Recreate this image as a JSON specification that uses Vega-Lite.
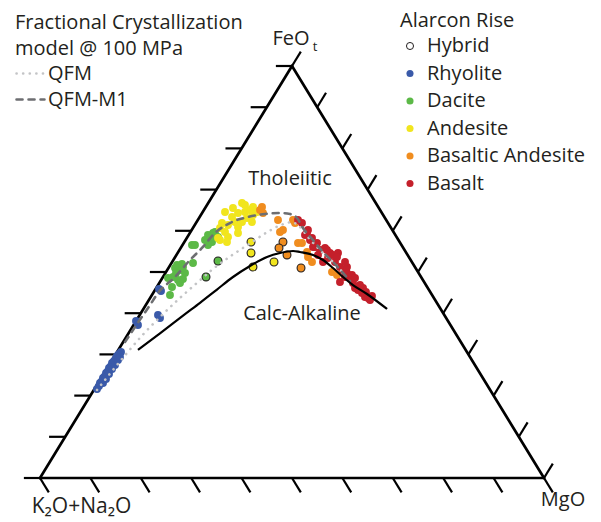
{
  "$schema": "https://vega.github.io/schema/vega-lite/v6.json",
  "description": "AFM ternary diagram (K2O+Na2O - FeOt - MgO) of Alarcon Rise lavas with fractional crystallization model paths and the tholeiitic / calc-alkaline boundary. x and y are the ternary coordinates projected onto the triangle (MgO + FeOt/2, FeOt).",
  "width": 504,
  "height": 412,
  "autosize": {"type": "none"},
  "padding": {"left": 40, "top": 66, "right": 57, "bottom": 44},
  "background": "white",
  "config": {"view": {"stroke": null}, "font": "Open Sans", "text": {"font": "Open Sans"}},
  "datasets": {
    "edges": [
      {"x": 0, "y": 0, "x2": 100, "y2": 0},
      {"x": 0, "y": 0, "x2": 50, "y2": 100},
      {"x": 100, "y": 0, "x2": 50, "y2": 100}
    ],
    "ticks": [
      {"x": 0, "y": 0, "x2": -3.2, "y2": 0},
      {"x": 5, "y": 10, "x2": 1.8, "y2": 10},
      {"x": 10, "y": 20, "x2": 6.8, "y2": 20},
      {"x": 15, "y": 30, "x2": 11.8, "y2": 30},
      {"x": 20, "y": 40, "x2": 16.8, "y2": 40},
      {"x": 25, "y": 50, "x2": 21.8, "y2": 50},
      {"x": 30, "y": 60, "x2": 26.8, "y2": 60},
      {"x": 35, "y": 70, "x2": 31.8, "y2": 70},
      {"x": 40, "y": 80, "x2": 36.8, "y2": 80},
      {"x": 45, "y": 90, "x2": 41.8, "y2": 90},
      {"x": 50, "y": 100, "x2": 46.8, "y2": 100},
      {"x": 0, "y": 0, "x2": 1.75, "y2": -3.5},
      {"x": 10, "y": 0, "x2": 11.75, "y2": -3.5},
      {"x": 20, "y": 0, "x2": 21.75, "y2": -3.5},
      {"x": 30, "y": 0, "x2": 31.75, "y2": -3.5},
      {"x": 40, "y": 0, "x2": 41.75, "y2": -3.5},
      {"x": 50, "y": 0, "x2": 51.75, "y2": -3.5},
      {"x": 60, "y": 0, "x2": 61.75, "y2": -3.5},
      {"x": 70, "y": 0, "x2": 71.75, "y2": -3.5},
      {"x": 80, "y": 0, "x2": 81.75, "y2": -3.5},
      {"x": 90, "y": 0, "x2": 91.75, "y2": -3.5},
      {"x": 100, "y": 0, "x2": 101.75, "y2": -3.5},
      {"x": 100, "y": 0, "x2": 101.75, "y2": 3.5},
      {"x": 95, "y": 10, "x2": 96.75, "y2": 13.5},
      {"x": 90, "y": 20, "x2": 91.75, "y2": 23.5},
      {"x": 85, "y": 30, "x2": 86.75, "y2": 33.5},
      {"x": 80, "y": 40, "x2": 81.75, "y2": 43.5},
      {"x": 75, "y": 50, "x2": 76.75, "y2": 53.5},
      {"x": 70, "y": 60, "x2": 71.75, "y2": 63.5},
      {"x": 65, "y": 70, "x2": 66.75, "y2": 73.5},
      {"x": 60, "y": 80, "x2": 61.75, "y2": 83.5},
      {"x": 55, "y": 90, "x2": 56.75, "y2": 93.5},
      {"x": 50, "y": 100, "x2": 51.75, "y2": 103.5}
    ],
    "samples": [
      {"x": 11.31, "y": 21.60, "type": "Rhyolite", "hybrid": false},
      {"x": 11.71, "y": 22.33, "type": "Rhyolite", "hybrid": false},
      {"x": 11.90, "y": 23.06, "type": "Rhyolite", "hybrid": false},
      {"x": 12.30, "y": 23.54, "type": "Rhyolite", "hybrid": false},
      {"x": 12.50, "y": 24.27, "type": "Rhyolite", "hybrid": false},
      {"x": 12.90, "y": 24.76, "type": "Rhyolite", "hybrid": false},
      {"x": 13.10, "y": 25.49, "type": "Rhyolite", "hybrid": false},
      {"x": 13.49, "y": 25.97, "type": "Rhyolite", "hybrid": false},
      {"x": 13.69, "y": 26.70, "type": "Rhyolite", "hybrid": false},
      {"x": 14.09, "y": 27.18, "type": "Rhyolite", "hybrid": false},
      {"x": 14.29, "y": 27.91, "type": "Rhyolite", "hybrid": false},
      {"x": 14.68, "y": 28.40, "type": "Rhyolite", "hybrid": false},
      {"x": 15.08, "y": 29.13, "type": "Rhyolite", "hybrid": false},
      {"x": 15.28, "y": 29.61, "type": "Rhyolite", "hybrid": false},
      {"x": 15.67, "y": 30.10, "type": "Rhyolite", "hybrid": false},
      {"x": 16.07, "y": 30.58, "type": "Rhyolite", "hybrid": false},
      {"x": 12.50, "y": 23.06, "type": "Rhyolite", "hybrid": false},
      {"x": 13.10, "y": 24.03, "type": "Rhyolite", "hybrid": false},
      {"x": 13.69, "y": 25.24, "type": "Rhyolite", "hybrid": false},
      {"x": 14.29, "y": 26.46, "type": "Rhyolite", "hybrid": false},
      {"x": 14.88, "y": 27.43, "type": "Rhyolite", "hybrid": false},
      {"x": 15.48, "y": 28.64, "type": "Rhyolite", "hybrid": false},
      {"x": 15.87, "y": 29.37, "type": "Rhyolite", "hybrid": false},
      {"x": 24.01, "y": 45.39, "type": "Rhyolite", "hybrid": false},
      {"x": 23.61, "y": 45.87, "type": "Rhyolite", "hybrid": false},
      {"x": 23.41, "y": 39.56, "type": "Rhyolite", "hybrid": false},
      {"x": 23.81, "y": 38.83, "type": "Rhyolite", "hybrid": false},
      {"x": 19.05, "y": 38.11, "type": "Rhyolite", "hybrid": false},
      {"x": 19.44, "y": 37.14, "type": "Rhyolite", "hybrid": false},
      {"x": 27.18, "y": 51.70, "type": "Dacite", "hybrid": false},
      {"x": 27.78, "y": 50.49, "type": "Dacite", "hybrid": false},
      {"x": 28.37, "y": 51.21, "type": "Dacite", "hybrid": false},
      {"x": 26.39, "y": 48.79, "type": "Dacite", "hybrid": false},
      {"x": 27.38, "y": 48.06, "type": "Dacite", "hybrid": false},
      {"x": 26.19, "y": 46.36, "type": "Dacite", "hybrid": false},
      {"x": 25.79, "y": 44.42, "type": "Dacite", "hybrid": false},
      {"x": 26.79, "y": 50.97, "type": "Dacite", "hybrid": false},
      {"x": 28.17, "y": 51.94, "type": "Dacite", "hybrid": false},
      {"x": 28.77, "y": 49.76, "type": "Dacite", "hybrid": false},
      {"x": 27.78, "y": 47.33, "type": "Dacite", "hybrid": false},
      {"x": 28.37, "y": 48.30, "type": "Dacite", "hybrid": false},
      {"x": 25.40, "y": 48.54, "type": "Dacite", "hybrid": false},
      {"x": 30.16, "y": 56.55, "type": "Dacite", "hybrid": false},
      {"x": 30.36, "y": 52.18, "type": "Dacite", "hybrid": false},
      {"x": 26.98, "y": 49.76, "type": "Dacite", "hybrid": false},
      {"x": 33.33, "y": 58.98, "type": "Dacite", "hybrid": false},
      {"x": 34.33, "y": 59.47, "type": "Dacite", "hybrid": false},
      {"x": 34.13, "y": 57.28, "type": "Dacite", "hybrid": false},
      {"x": 34.72, "y": 59.71, "type": "Dacite", "hybrid": false},
      {"x": 34.13, "y": 58.74, "type": "Dacite", "hybrid": false},
      {"x": 35.32, "y": 58.50, "type": "Dacite", "hybrid": false},
      {"x": 33.73, "y": 57.28, "type": "Dacite", "hybrid": false},
      {"x": 33.33, "y": 56.55, "type": "Dacite", "hybrid": false},
      {"x": 30.75, "y": 56.55, "type": "Dacite", "hybrid": false},
      {"x": 32.74, "y": 57.77, "type": "Dacite", "hybrid": false},
      {"x": 36.71, "y": 64.56, "type": "Andesite", "hybrid": false},
      {"x": 38.29, "y": 65.53, "type": "Andesite", "hybrid": false},
      {"x": 40.08, "y": 66.75, "type": "Andesite", "hybrid": false},
      {"x": 38.10, "y": 63.35, "type": "Andesite", "hybrid": false},
      {"x": 39.29, "y": 64.32, "type": "Andesite", "hybrid": false},
      {"x": 40.67, "y": 64.56, "type": "Andesite", "hybrid": false},
      {"x": 41.67, "y": 65.05, "type": "Andesite", "hybrid": false},
      {"x": 42.26, "y": 63.83, "type": "Andesite", "hybrid": false},
      {"x": 41.07, "y": 63.11, "type": "Andesite", "hybrid": false},
      {"x": 42.06, "y": 62.14, "type": "Andesite", "hybrid": false},
      {"x": 40.08, "y": 62.14, "type": "Andesite", "hybrid": false},
      {"x": 38.69, "y": 62.14, "type": "Andesite", "hybrid": false},
      {"x": 37.30, "y": 61.41, "type": "Andesite", "hybrid": false},
      {"x": 36.11, "y": 61.89, "type": "Andesite", "hybrid": false},
      {"x": 35.71, "y": 60.68, "type": "Andesite", "hybrid": false},
      {"x": 36.71, "y": 59.71, "type": "Andesite", "hybrid": false},
      {"x": 37.30, "y": 58.50, "type": "Andesite", "hybrid": false},
      {"x": 35.32, "y": 58.25, "type": "Andesite", "hybrid": false},
      {"x": 39.29, "y": 60.92, "type": "Andesite", "hybrid": false},
      {"x": 43.06, "y": 64.56, "type": "Andesite", "hybrid": false},
      {"x": 42.26, "y": 65.78, "type": "Andesite", "hybrid": false},
      {"x": 39.29, "y": 59.47, "type": "Andesite", "hybrid": false},
      {"x": 37.10, "y": 57.28, "type": "Andesite", "hybrid": false},
      {"x": 35.71, "y": 57.77, "type": "Andesite", "hybrid": false},
      {"x": 40.67, "y": 66.26, "type": "Andesite", "hybrid": false},
      {"x": 43.65, "y": 65.05, "type": "Basaltic Andesite", "hybrid": false},
      {"x": 44.25, "y": 64.32, "type": "Basaltic Andesite", "hybrid": false},
      {"x": 44.05, "y": 65.78, "type": "Basaltic Andesite", "hybrid": false},
      {"x": 47.22, "y": 62.62, "type": "Basaltic Andesite", "hybrid": false},
      {"x": 48.21, "y": 60.19, "type": "Basaltic Andesite", "hybrid": false},
      {"x": 47.62, "y": 59.71, "type": "Basaltic Andesite", "hybrid": false},
      {"x": 50.20, "y": 62.62, "type": "Basaltic Andesite", "hybrid": false},
      {"x": 50.60, "y": 61.89, "type": "Basaltic Andesite", "hybrid": false},
      {"x": 51.19, "y": 57.04, "type": "Basaltic Andesite", "hybrid": false},
      {"x": 51.98, "y": 57.04, "type": "Basaltic Andesite", "hybrid": false},
      {"x": 52.98, "y": 54.85, "type": "Basaltic Andesite", "hybrid": false},
      {"x": 53.17, "y": 53.64, "type": "Basaltic Andesite", "hybrid": false},
      {"x": 53.97, "y": 52.43, "type": "Basaltic Andesite", "hybrid": false},
      {"x": 57.94, "y": 50.00, "type": "Basaltic Andesite", "hybrid": false},
      {"x": 58.93, "y": 49.27, "type": "Basaltic Andesite", "hybrid": false},
      {"x": 51.19, "y": 62.62, "type": "Basalt", "hybrid": false},
      {"x": 51.98, "y": 61.89, "type": "Basalt", "hybrid": false},
      {"x": 52.58, "y": 58.98, "type": "Basalt", "hybrid": false},
      {"x": 52.98, "y": 59.47, "type": "Basalt", "hybrid": false},
      {"x": 53.57, "y": 57.77, "type": "Basalt", "hybrid": false},
      {"x": 53.97, "y": 58.25, "type": "Basalt", "hybrid": false},
      {"x": 54.56, "y": 56.07, "type": "Basalt", "hybrid": false},
      {"x": 54.96, "y": 57.04, "type": "Basalt", "hybrid": false},
      {"x": 55.56, "y": 55.34, "type": "Basalt", "hybrid": false},
      {"x": 54.17, "y": 56.07, "type": "Basalt", "hybrid": false},
      {"x": 56.55, "y": 55.83, "type": "Basalt", "hybrid": false},
      {"x": 57.54, "y": 54.61, "type": "Basalt", "hybrid": false},
      {"x": 58.13, "y": 54.13, "type": "Basalt", "hybrid": false},
      {"x": 59.13, "y": 54.61, "type": "Basalt", "hybrid": false},
      {"x": 57.14, "y": 53.40, "type": "Basalt", "hybrid": false},
      {"x": 58.53, "y": 52.43, "type": "Basalt", "hybrid": false},
      {"x": 59.52, "y": 51.21, "type": "Basalt", "hybrid": false},
      {"x": 60.12, "y": 50.49, "type": "Basalt", "hybrid": false},
      {"x": 60.91, "y": 49.76, "type": "Basalt", "hybrid": false},
      {"x": 61.51, "y": 48.54, "type": "Basalt", "hybrid": false},
      {"x": 62.10, "y": 47.33, "type": "Basalt", "hybrid": false},
      {"x": 62.50, "y": 46.12, "type": "Basalt", "hybrid": false},
      {"x": 63.10, "y": 45.63, "type": "Basalt", "hybrid": false},
      {"x": 63.89, "y": 44.90, "type": "Basalt", "hybrid": false},
      {"x": 64.48, "y": 43.93, "type": "Basalt", "hybrid": false},
      {"x": 65.08, "y": 43.69, "type": "Basalt", "hybrid": false},
      {"x": 59.52, "y": 47.57, "type": "Basalt", "hybrid": false},
      {"x": 60.52, "y": 48.79, "type": "Basalt", "hybrid": false},
      {"x": 61.90, "y": 49.27, "type": "Basalt", "hybrid": false},
      {"x": 62.90, "y": 46.36, "type": "Basalt", "hybrid": false},
      {"x": 64.09, "y": 46.12, "type": "Basalt", "hybrid": false},
      {"x": 65.48, "y": 43.20, "type": "Basalt", "hybrid": false},
      {"x": 65.87, "y": 44.17, "type": "Basalt", "hybrid": false},
      {"x": 56.15, "y": 52.43, "type": "Basalt", "hybrid": false},
      {"x": 58.93, "y": 53.64, "type": "Basalt", "hybrid": false},
      {"x": 60.91, "y": 51.21, "type": "Basalt", "hybrid": false},
      {"x": 63.49, "y": 46.84, "type": "Basalt", "hybrid": false},
      {"x": 55.16, "y": 54.13, "type": "Basalt", "hybrid": false},
      {"x": 56.94, "y": 55.34, "type": "Basalt", "hybrid": false},
      {"x": 60.52, "y": 52.43, "type": "Basalt", "hybrid": false},
      {"x": 53.17, "y": 60.19, "type": "Basalt", "hybrid": false},
      {"x": 62.50, "y": 48.54, "type": "Basalt", "hybrid": false},
      {"x": 64.68, "y": 45.15, "type": "Basalt", "hybrid": false},
      {"x": 35.32, "y": 52.67, "type": "Dacite", "hybrid": true},
      {"x": 32.94, "y": 48.79, "type": "Dacite", "hybrid": true},
      {"x": 41.87, "y": 57.28, "type": "Andesite", "hybrid": true},
      {"x": 41.87, "y": 54.61, "type": "Andesite", "hybrid": true},
      {"x": 42.26, "y": 51.21, "type": "Andesite", "hybrid": true},
      {"x": 46.43, "y": 52.43, "type": "Andesite", "hybrid": true},
      {"x": 48.21, "y": 57.28, "type": "Basaltic Andesite", "hybrid": true},
      {"x": 47.42, "y": 55.83, "type": "Basaltic Andesite", "hybrid": true},
      {"x": 49.01, "y": 54.13, "type": "Basaltic Andesite", "hybrid": true},
      {"x": 51.79, "y": 50.97, "type": "Basaltic Andesite", "hybrid": true}
    ],
    "models": [
      {"model": "QFM", "x": 11.31, "y": 21.36},
      {"model": "QFM", "x": 14.0, "y": 25.5},
      {"model": "QFM", "x": 17.26, "y": 30.34},
      {"model": "QFM", "x": 20.5, "y": 34.9},
      {"model": "QFM", "x": 24.0, "y": 39.3},
      {"model": "QFM", "x": 27.5, "y": 43.4},
      {"model": "QFM", "x": 31.0, "y": 47.2},
      {"model": "QFM", "x": 34.5, "y": 50.9},
      {"model": "QFM", "x": 38.0, "y": 54.0},
      {"model": "QFM", "x": 41.5, "y": 56.8},
      {"model": "QFM", "x": 45.0, "y": 59.6},
      {"model": "QFM", "x": 48.0, "y": 61.5},
      {"model": "QFM", "x": 50.0, "y": 62.1},
      {"model": "QFM", "x": 51.5, "y": 61.0},
      {"model": "QFM", "x": 53.5, "y": 58.0},
      {"model": "QFM", "x": 56.0, "y": 54.8},
      {"model": "QFM", "x": 58.5, "y": 52.0},
      {"model": "QFM", "x": 60.5, "y": 49.3},
      {"model": "QFM-M1", "x": 16.87, "y": 33.01},
      {"model": "QFM-M1", "x": 18.85, "y": 36.65},
      {"model": "QFM-M1", "x": 21.83, "y": 41.99},
      {"model": "QFM-M1", "x": 23.41, "y": 44.90},
      {"model": "QFM-M1", "x": 26.79, "y": 48.79},
      {"model": "QFM-M1", "x": 29.76, "y": 52.91},
      {"model": "QFM-M1", "x": 32.14, "y": 55.83},
      {"model": "QFM-M1", "x": 34.72, "y": 59.47},
      {"model": "QFM-M1", "x": 38.10, "y": 62.14},
      {"model": "QFM-M1", "x": 41.27, "y": 63.35},
      {"model": "QFM-M1", "x": 44.64, "y": 64.08},
      {"model": "QFM-M1", "x": 47.62, "y": 64.32},
      {"model": "QFM-M1", "x": 49.60, "y": 64.08},
      {"model": "QFM-M1", "x": 50.99, "y": 63.11},
      {"model": "QFM-M1", "x": 52.18, "y": 60.68},
      {"model": "QFM-M1", "x": 54.17, "y": 57.77},
      {"model": "QFM-M1", "x": 56.15, "y": 54.85},
      {"model": "QFM-M1", "x": 58.13, "y": 52.43},
      {"model": "QFM-M1", "x": 60.12, "y": 49.76},
      {"model": "QFM-M1", "x": 61.51, "y": 47.82}
    ],
    "boundary": [
      {"x": 19.44, "y": 31.07},
      {"x": 23.81, "y": 35.12},
      {"x": 28.77, "y": 39.76},
      {"x": 31.75, "y": 42.52},
      {"x": 35.12, "y": 45.75},
      {"x": 38.29, "y": 48.79},
      {"x": 41.67, "y": 51.46},
      {"x": 45.04, "y": 53.64},
      {"x": 47.62, "y": 54.61},
      {"x": 50.20, "y": 55.10},
      {"x": 51.59, "y": 54.85},
      {"x": 54.17, "y": 54.13},
      {"x": 56.15, "y": 52.91},
      {"x": 58.13, "y": 50.97},
      {"x": 60.12, "y": 48.79},
      {"x": 62.10, "y": 46.84},
      {"x": 64.88, "y": 44.66},
      {"x": 68.85, "y": 41.02}
    ],
    "labels": [
      {"text": "FeO", "x": 49.80, "y": 105.1},
      {"text": "MgO", "x": 103.77, "y": -6.8},
      {"text": "Tholeiitic", "x": 49.60, "y": 71.1},
      {"text": "Calc-Alkaline", "x": 51.98, "y": 38.35}
    ],
    "apex": [
      {"text": "K₂O+Na₂O", "x": 8.23, "y": -8.5}
    ],
    "subscripts": [
      {"text": "t", "x": 54.6, "y": 103.6}
    ]
  },
  "encoding": {
    "x": {"field": "x", "type": "quantitative", "scale": {"domain": [0, 100], "nice": false, "zero": false}, "axis": null},
    "y": {"field": "y", "type": "quantitative", "scale": {"domain": [0, 100], "nice": false, "zero": false}, "axis": null}
  },
  "layer": [
    {
      "data": {"name": "edges"},
      "mark": {"type": "rule", "color": "#000000", "strokeWidth": 2.7, "strokeCap": "round"},
      "encoding": {"x2": {"field": "x2"}, "y2": {"field": "y2"}}
    },
    {
      "data": {"name": "ticks"},
      "mark": {"type": "rule", "color": "#000000", "strokeWidth": 2.2},
      "encoding": {"x2": {"field": "x2"}, "y2": {"field": "y2"}}
    },
    {
      "data": {"name": "samples"},
      "mark": {"type": "circle", "size": 62, "opacity": 1, "strokeWidth": 1.1},
      "encoding": {
        "color": {
          "field": "type",
          "type": "nominal",
          "scale": {
            "domain": ["Hybrid", "Rhyolite", "Dacite", "Andesite", "Basaltic Andesite", "Basalt"],
            "range": ["#ffffff", "#3a5aa9", "#5cb947", "#f1e51e", "#f08d1f", "#c4202b"]
          },
          "legend": {
            "title": "Alarcon Rise",
            "orient": "none",
            "legendX": 360,
            "legendY": -55,
            "direction": "vertical",
            "padding": 0,
            "titleFont": "Open Sans",
            "titleFontSize": 20,
            "titleFontWeight": "normal",
            "titleColor": "#231f20",
            "titleLimit": 400,
            "titlePadding": 5,
            "labelFont": "Open Sans",
            "labelFontSize": 20,
            "labelColor": "#231f20",
            "labelLimit": 400,
            "labelOffset": 7,
            "symbolType": "circle",
            "symbolSize": 50,
            "symbolOffset": 0,
            "symbolStrokeColor": {"expr": "datum.value === 'Hybrid' ? '#231f20' : 'transparent'"},
            "symbolStrokeWidth": 1,
            "rowPadding": 7.5
          }
        },
        "stroke": {"condition": {"test": "datum.hybrid", "value": "#231f20"}, "value": "transparent"}
      }
    },
    {
      "data": {"name": "models"},
      "mark": {"type": "line", "strokeWidth": 2.6, "strokeCap": "round", "interpolate": "monotone"},
      "encoding": {
        "stroke": {
          "field": "model",
          "type": "nominal",
          "scale": {"domain": ["QFM", "QFM-M1"], "range": ["#c3c4c6", "#6d6e71"]},
          "legend": {
            "title": ["Fractional Crystallization", "model @ 100 MPa"],
            "orient": "none",
            "legendX": -25,
            "legendY": -53,
            "direction": "vertical",
            "padding": 0,
            "titleFont": "Open Sans",
            "titleFontSize": 20,
            "titleFontWeight": "normal",
            "titleColor": "#231f20",
            "titleLineHeight": 26,
            "titleLimit": 400,
            "titlePadding": -1,
            "labelFont": "Open Sans",
            "labelFontSize": 20,
            "labelColor": "#231f20",
            "labelOffset": 2,
            "symbolType": "stroke",
            "symbolSize": 780,
            "symbolStrokeWidth": 2.6,
            "rowPadding": -1,
            "encode": {"symbols": {"update": {"strokeCap": {"value": "round"}}}}
          }
        },
        "strokeDash": {
          "field": "model",
          "type": "nominal",
          "scale": {"domain": ["QFM", "QFM-M1"], "range": [[0.1, 6.5], [6, 6]]},
          "legend": {
            "title": ["Fractional Crystallization", "model @ 100 MPa"],
            "orient": "none",
            "legendX": -25,
            "legendY": -53,
            "direction": "vertical",
            "padding": 0,
            "titleFont": "Open Sans",
            "titleFontSize": 20,
            "titleFontWeight": "normal",
            "titleColor": "#231f20",
            "titleLineHeight": 26,
            "titleLimit": 400,
            "titlePadding": -1,
            "labelFont": "Open Sans",
            "labelFontSize": 20,
            "labelColor": "#231f20",
            "labelOffset": 2,
            "symbolType": "stroke",
            "symbolSize": 780,
            "symbolStrokeWidth": 2.6,
            "rowPadding": -1,
            "encode": {"symbols": {"update": {"strokeCap": {"value": "round"}}}}
          }
        }
      }
    },
    {
      "data": {"name": "boundary"},
      "mark": {"type": "line", "color": "#000000", "strokeWidth": 2.2, "interpolate": "monotone"},
      "encoding": {}
    },
    {
      "data": {"name": "labels"},
      "mark": {"type": "text", "font": "Open Sans", "fontSize": 20, "color": "#231f20", "align": "center", "baseline": "alphabetic"},
      "encoding": {"text": {"field": "text"}}
    },
    {
      "data": {"name": "apex"},
      "mark": {"type": "text", "font": "Open Sans", "fontSize": 21, "color": "#231f20", "align": "center", "baseline": "alphabetic"},
      "encoding": {"text": {"field": "text"}}
    },
    {
      "data": {"name": "subscripts"},
      "mark": {"type": "text", "font": "Open Sans", "fontSize": 13, "color": "#231f20", "align": "center", "baseline": "alphabetic"},
      "encoding": {"text": {"field": "text"}}
    }
  ]
}
